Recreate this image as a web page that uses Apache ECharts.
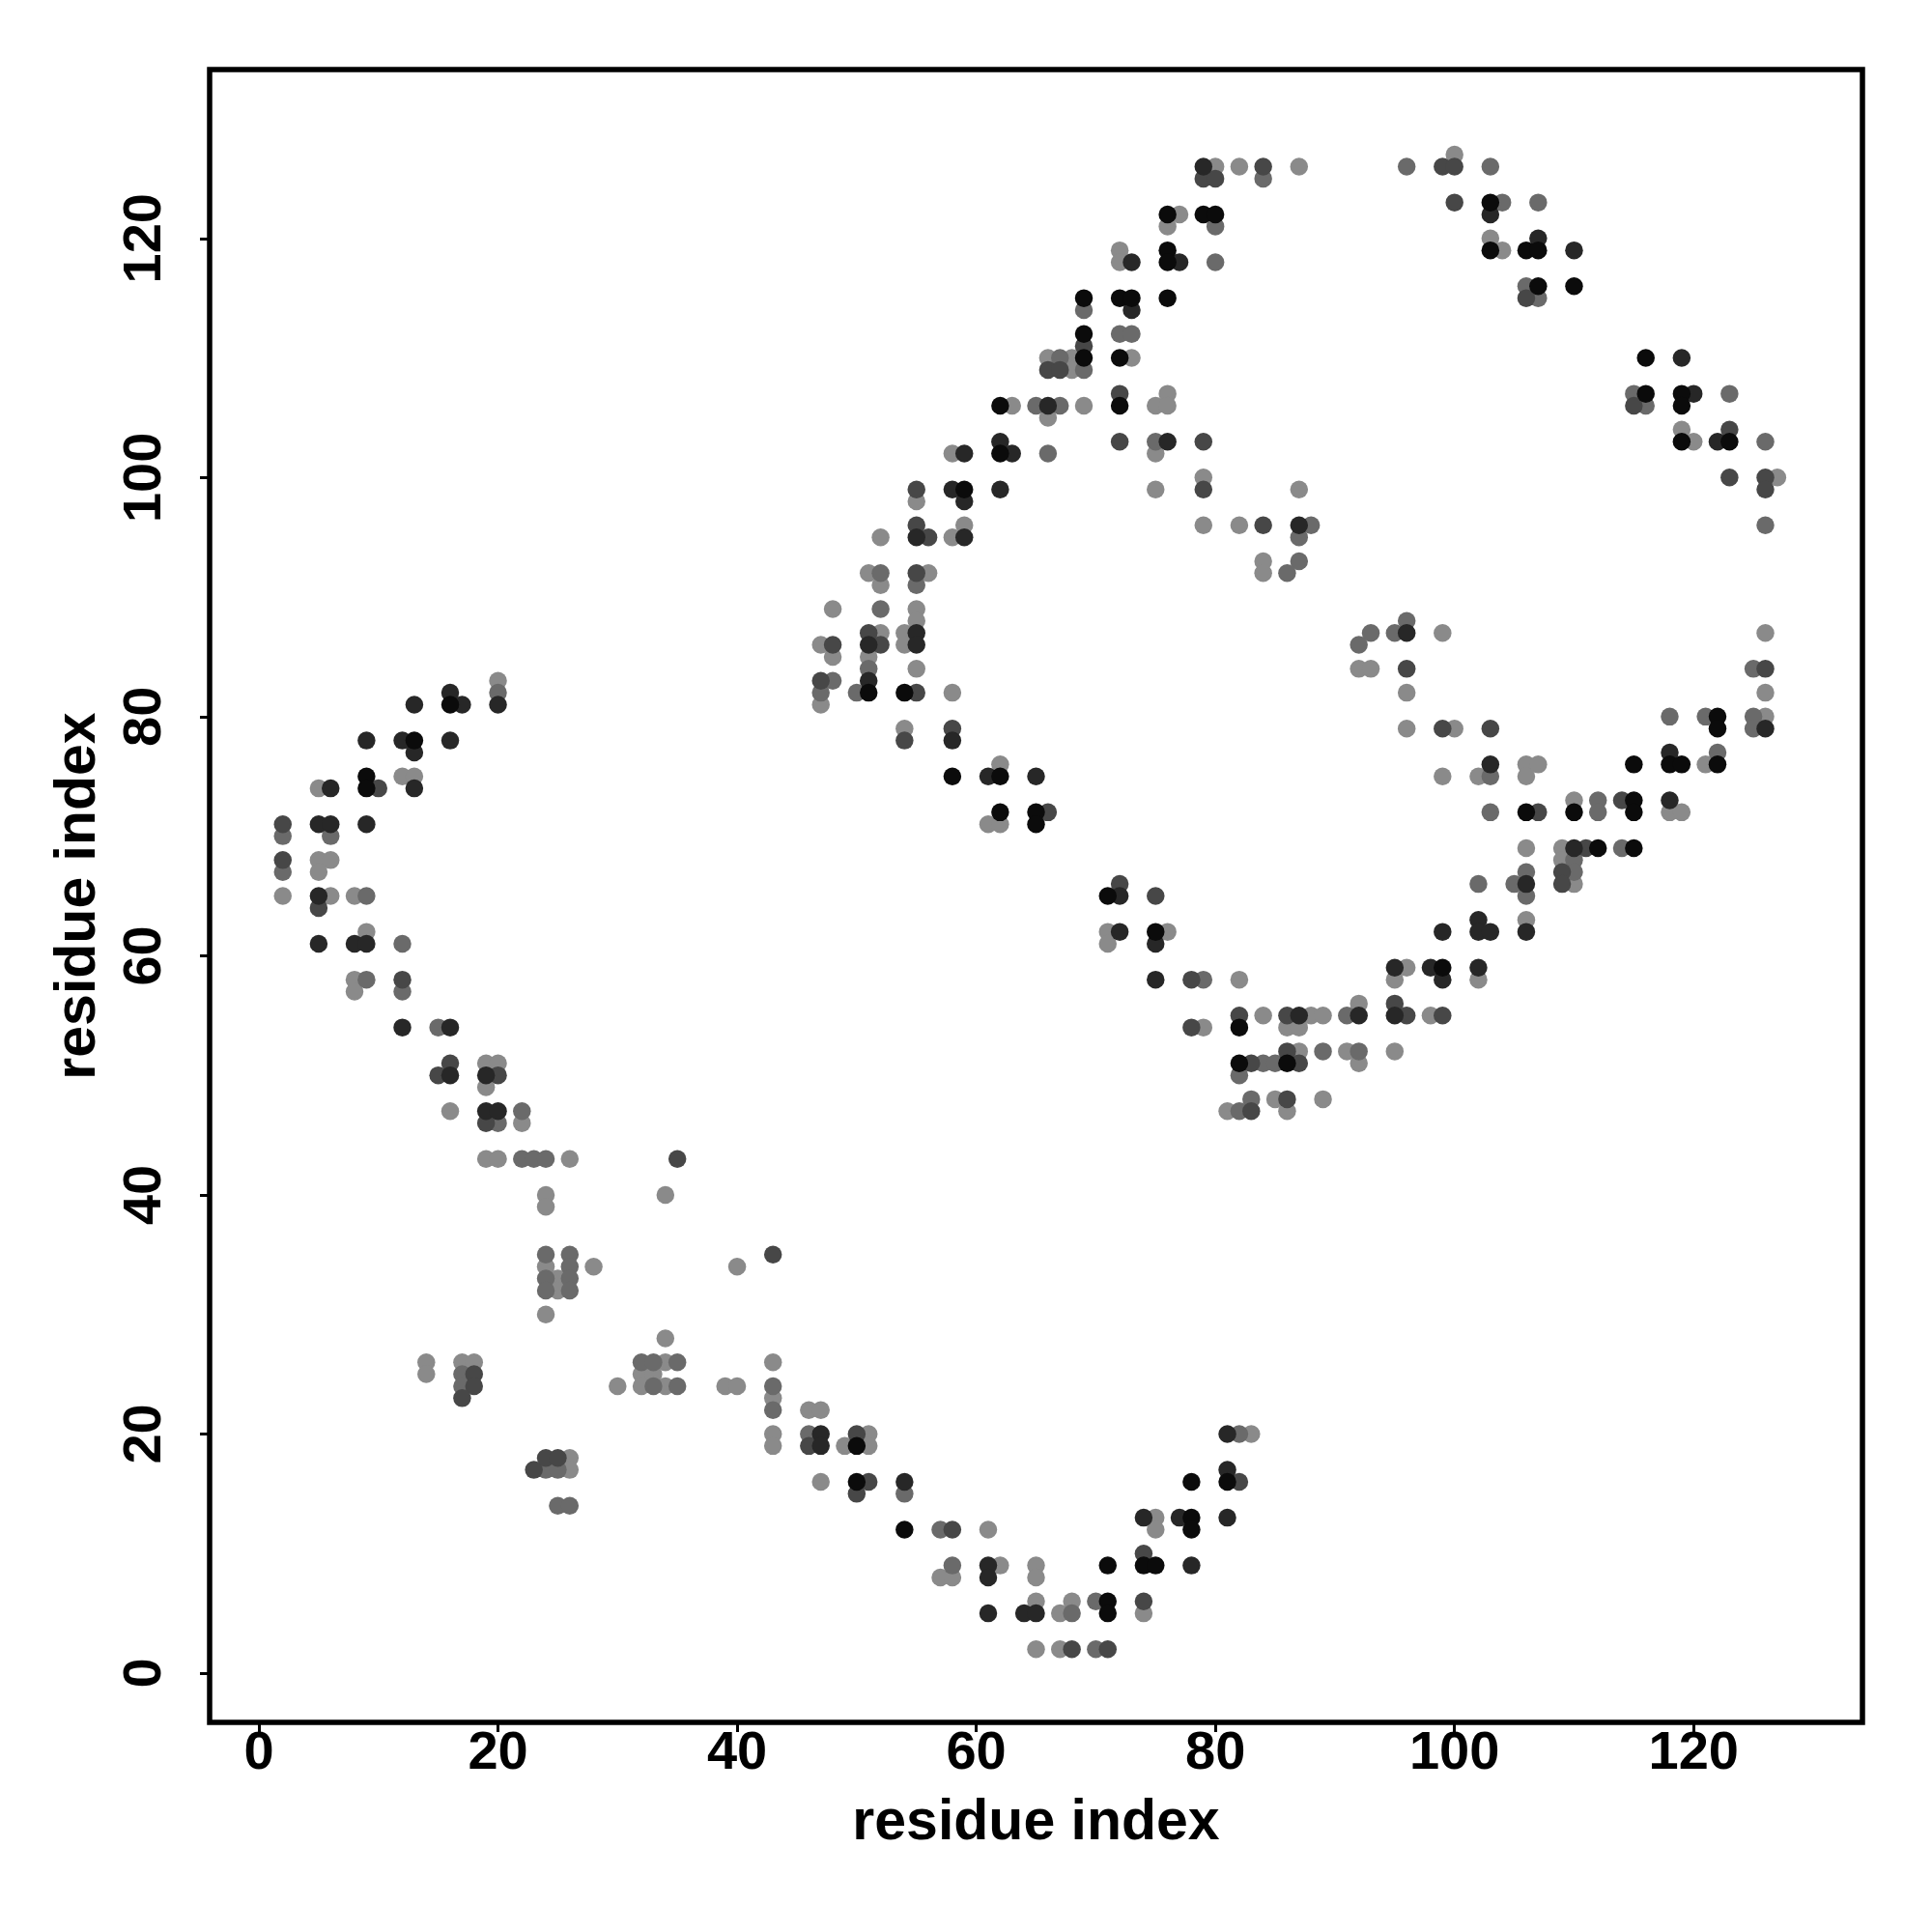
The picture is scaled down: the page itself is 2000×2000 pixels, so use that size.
<!DOCTYPE html>
<html>
<head>
<meta charset="utf-8">
<script src="https://cdn.jsdelivr.net/npm/echarts@6/dist/echarts.min.js"></script>
<style>
html,body{margin:0;padding:0;background:#fff;}
#chart{width:2000px;height:2000px;}
</style>
</head>
<body>
<div id="chart"></div>
<script>
// Contact pairs [residue i, residue j], grouped by shade (1 = darkest, 5 = lightest)
const shade1 = [[16,81],[13,78],[9,75],[9,74],[50,19],[50,16],[54,12],[81,16],[78,16],[78,13],[78,12],[71,9],[74,9],[75,9],[71,6],[71,5],[76,122],[79,122],[80,122],[76,119],[76,118],[69,115],[72,115],[73,115],[76,115],[69,112],[69,110],[72,110],[72,106],[62,106],[62,102],[59,99],[51,82],[54,82],[58,75],[62,75],[62,72],[65,72],[65,71],[71,65],[75,62],[82,54],[82,51],[86,51],[103,123],[103,119],[106,119],[107,119],[107,116],[110,116],[116,110],[116,107],[119,107],[119,106],[119,103],[123,103],[122,80],[122,79],[115,76],[118,76],[119,76],[122,76],[115,73],[106,72],[110,72],[115,72],[112,69],[115,69],[99,59]];
const shade2 = [[20,81],[13,81],[16,82],[17,81],[9,78],[12,78],[13,77],[16,78],[13,74],[6,74],[5,71],[6,71],[9,71],[5,65],[5,61],[8,61],[9,61],[12,54],[16,54],[16,50],[19,50],[19,47],[20,47],[47,20],[47,19],[54,16],[81,20],[81,17],[74,13],[77,13],[81,13],[78,9],[61,9],[61,8],[61,5],[64,5],[65,5],[79,126],[73,118],[77,118],[73,114],[66,106],[76,103],[62,103],[59,102],[63,102],[58,99],[62,99],[59,98],[87,96],[55,95],[59,95],[55,87],[51,86],[55,86],[51,83],[58,78],[61,75],[65,75],[72,65],[72,62],[75,61],[75,58],[87,55],[103,122],[107,120],[110,119],[119,110],[120,107],[122,103],[96,87],[126,79],[118,77],[103,76],[118,73],[110,69],[106,66],[102,63],[99,62],[102,62],[103,62],[106,62],[95,59],[98,59],[102,59],[99,58],[92,55],[95,55]];
const shade3 = [[10,74],[2,71],[2,68],[5,64],[12,58],[16,51],[15,50],[20,50],[19,46],[18,25],[18,24],[17,23],[23,17],[24,18],[25,18],[35,43],[43,35],[46,19],[50,20],[51,16],[50,15],[82,16],[74,10],[58,12],[74,6],[68,2],[71,2],[84,126],[79,125],[80,125],[69,111],[66,109],[67,109],[72,107],[72,103],[79,103],[55,99],[79,99],[55,96],[84,96],[56,95],[55,92],[51,87],[48,86],[52,86],[47,83],[55,82],[58,79],[54,78],[66,72],[72,66],[75,65],[78,58],[82,55],[86,55],[78,54],[86,52],[83,51],[87,51],[86,48],[83,47],[99,126],[100,126],[100,123],[106,115],[115,106],[123,104],[123,100],[126,100],[126,99],[96,84],[126,84],[99,79],[103,79],[114,73],[107,72],[111,69],[109,67],[109,66],[95,56],[96,55],[99,55]];
const shade4 = [[20,82],[2,70],[6,70],[2,67],[9,65],[12,61],[9,58],[12,57],[15,54],[22,47],[20,46],[22,43],[23,43],[24,43],[24,35],[24,33],[24,32],[26,35],[26,34],[26,33],[26,32],[17,25],[17,24],[24,17],[25,17],[25,14],[26,14],[32,26],[33,26],[35,26],[33,24],[35,24],[43,24],[43,22],[46,20],[54,15],[82,20],[57,12],[58,9],[70,6],[68,5],[70,2],[84,125],[80,121],[80,118],[69,114],[72,112],[73,112],[67,110],[69,109],[65,106],[67,106],[75,103],[66,102],[88,96],[87,95],[87,93],[52,92],[86,92],[55,91],[52,89],[51,84],[48,83],[47,82],[50,82],[79,58],[89,52],[84,51],[85,51],[82,50],[83,48],[82,47],[96,126],[103,126],[104,123],[107,123],[106,116],[107,115],[115,107],[123,107],[116,106],[126,103],[126,96],[96,88],[93,87],[95,87],[92,86],[125,84],[118,80],[121,80],[125,80],[125,79],[122,77],[103,75],[112,73],[103,72],[112,72],[114,69],[110,68],[106,67],[110,67],[102,66],[105,66],[106,65],[91,55],[92,52]];
const shade5 = [[20,83],[12,75],[13,75],[5,74],[5,68],[6,68],[5,67],[2,65],[6,65],[8,65],[9,62],[8,58],[8,57],[19,51],[20,51],[19,49],[16,47],[22,46],[19,43],[20,43],[26,43],[24,40],[24,39],[24,34],[25,33],[25,32],[28,34],[24,30],[14,26],[14,25],[17,26],[18,26],[30,24],[26,18],[26,17],[34,40],[40,34],[34,28],[34,26],[32,25],[33,25],[32,24],[34,24],[39,24],[40,24],[43,26],[43,23],[43,20],[43,19],[46,22],[47,22],[49,19],[51,20],[51,19],[47,16],[83,20],[75,13],[75,12],[61,12],[62,9],[65,9],[57,8],[58,8],[65,8],[65,6],[68,6],[67,5],[74,5],[65,2],[67,2],[80,126],[82,126],[87,126],[77,122],[76,121],[72,119],[72,118],[66,110],[68,110],[68,109],[73,110],[75,106],[76,107],[76,106],[63,106],[69,106],[66,105],[75,102],[58,102],[79,100],[75,99],[87,99],[55,98],[59,96],[79,96],[82,96],[52,95],[58,95],[84,93],[51,92],[56,92],[84,92],[52,91],[48,89],[55,89],[55,88],[52,87],[54,87],[47,86],[54,86],[48,85],[51,85],[55,84],[58,82],[47,81],[54,79],[62,76],[61,71],[62,71],[71,62],[76,62],[71,61],[82,58],[84,55],[88,55],[89,55],[79,54],[86,54],[87,54],[87,52],[85,48],[89,48],[81,47],[86,47],[100,127],[103,120],[104,119],[119,104],[120,103],[127,100],[99,87],[126,87],[92,84],[93,84],[96,82],[126,82],[126,80],[96,79],[100,79],[106,76],[107,76],[121,76],[99,75],[102,75],[106,75],[110,73],[118,72],[119,72],[106,69],[109,69],[109,68],[110,66],[106,63],[96,59],[95,58],[102,58],[92,56],[98,55],[91,52],[95,52],[92,51]];

const tickValues = [0, 20, 40, 60, 80, 100, 120];
const axisTitle = 'residue index';

const shadeColors = ['#8a8a8a', '#6a6a6a', '#474747', '#272727', '#0b0b0b'];
const layers = [shade5, shade4, shade3, shade2, shade1];

const FONT = '"Liberation Sans", Arial, Helvetica, sans-serif';
const chart = echarts.init(document.getElementById('chart'), null, {renderer: 'canvas'});

function axisCommon(isX) {
  return {
    type: 'value',
    min: -4.12,
    max: 134.12,
    axisLine: {show: false, onZero: false},
    splitLine: {show: false},
    axisTick: {show: true, customValues: tickValues, length: 10, lineStyle: {color: '#000', width: 3}},
    axisLabel: {
      customValues: tickValues,
      fontSize: 56, fontWeight: 'bold', color: '#000', fontFamily: FONT,
      margin: isX ? 5 : 38,
      rotate: isX ? 0 : 90
    },
    name: axisTitle,
    nameLocation: 'middle',
    nameGap: isX ? 75 : 106,
    nameRotate: isX ? 0 : 90,
    nameTextStyle: {fontSize: 59, fontWeight: 'bold', color: '#000', fontFamily: FONT}
  };
}

chart.setOption({
  animation: false,
  backgroundColor: '#ffffff',
  grid: {left: 217, top: 72, width: 1711, height: 1711, show: true, borderColor: '#000', borderWidth: 5.5, backgroundColor: 'transparent'},
  xAxis: axisCommon(true),
  yAxis: axisCommon(false),
  series: layers.map((d, i) => ({
    type: 'scatter',
    data: d,
    symbol: 'circle',
    symbolSize: 18.5,
    itemStyle: {color: shadeColors[i], opacity: 1},
    z: 2 + i
  }))
});
</script>
</body>
</html>
